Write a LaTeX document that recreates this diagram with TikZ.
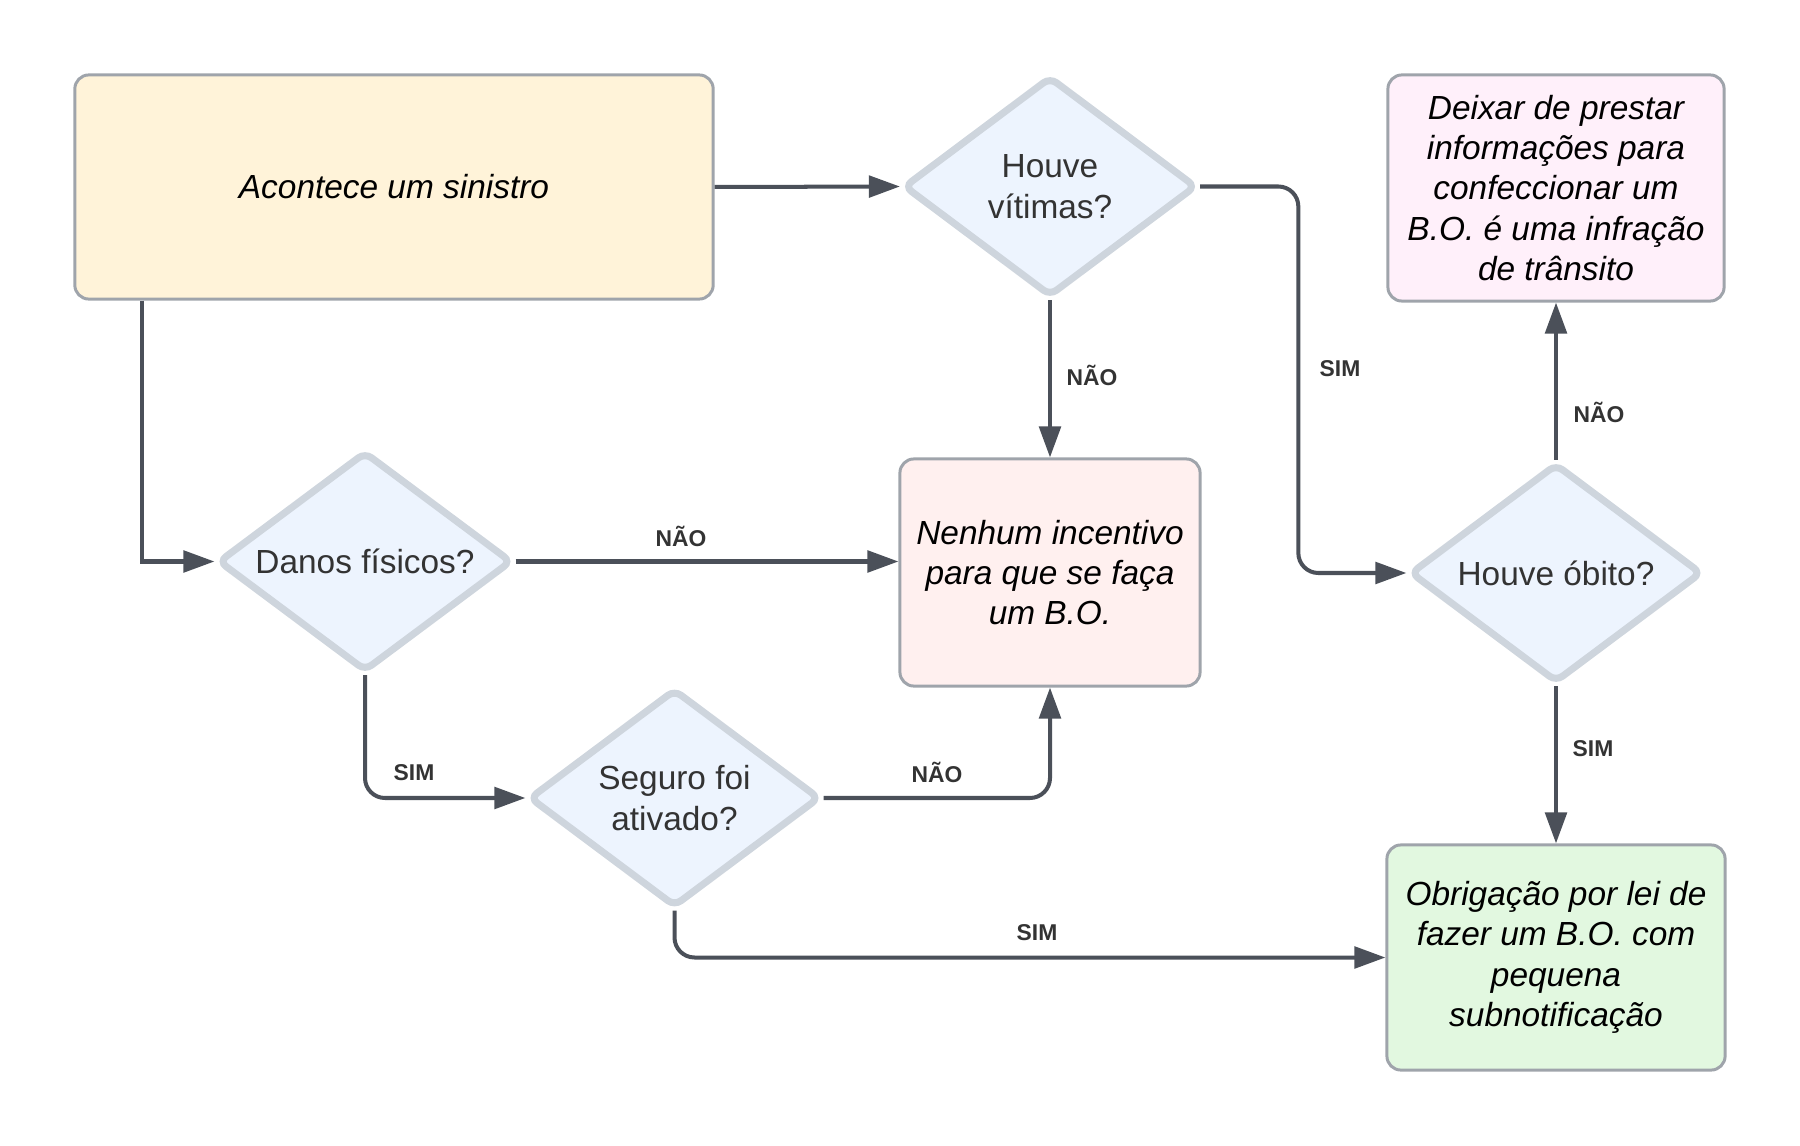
\documentclass[tikz,border=0pt]{standalone}
\usepackage{fontspec}
\setmainfont{Liberation Sans}
\usetikzlibrary{shapes.geometric,arrows.meta,calc}
\definecolor{boxborder}{HTML}{9FA4AB}
\definecolor{diaborder}{HTML}{CED5DD}
\definecolor{diafill}{HTML}{EDF4FE}
\definecolor{conncol}{HTML}{4B5059}
\definecolor{txtgray}{HTML}{333333}
\definecolor{fillA}{HTML}{FFF3D9}
\definecolor{fillB}{HTML}{FFF0EF}
\definecolor{fillC}{HTML}{FFF0FA}
\definecolor{fillD}{HTML}{E2F8E0}
\tikzset{
  boxnode/.style={rectangle, rounded corners=0.14cm, draw=boxborder, line width=0.85pt,
    align=center, inner sep=0pt, text=black,
    font=\fontsize{9.5}{11.5}\selectfont\itshape},
  dianode/.style={diamond, aspect=1.33, draw=diaborder, fill=diafill, line width=2pt,
    rounded corners=0.08cm, inner sep=0pt, align=center, text=txtgray,
    font=\fontsize{9.5}{11.8}\selectfont},
  conn/.style={draw=conncol, line width=1.14pt, rounded corners=0.2cm,
    -{Triangle[length=0.31cm,width=0.215cm]}},
  sharpconn/.style={draw=conncol, line width=1.14pt,
    -{Triangle[length=0.31cm,width=0.215cm]}},
  lab/.style={inner sep=0pt, text=txtgray, font=\fontsize{6.5}{7}\selectfont\bfseries}
}
\begin{document}
\begin{tikzpicture}[x=0.01cm,y=-0.01cm]
\useasboundingbox (0,0) rectangle (1800,1146);
% nodes
\node[boxnode, fill=fillA, minimum width=6.38cm, minimum height=2.24cm] (a1) at (394,187) {Acontece um sinistro};
\node[dianode, minimum width=2.93cm, minimum height=2.2cm] (d1) at (1050,186.5) {Houve\\vítimas?};
\node[boxnode, fill=fillB, minimum width=3.0cm, minimum height=2.27cm] (b2) at (1050,572.5) {Nenhum incentivo\\para que se faça\\um B.O.};
\node[boxnode, fill=fillC, minimum width=3.36cm, minimum height=2.26cm] (b3) at (1556,188) {Deixar de prestar\\informações para\\confeccionar um\\B.O. é uma infração\\de trânsito};
\node[dianode, minimum width=2.92cm, minimum height=2.19cm] (d3) at (1556,573) {Houve óbito?};
\node[boxnode, fill=fillD, minimum width=3.38cm, minimum height=2.25cm] (b4) at (1556,957.5) {Obrigação por lei de\\fazer um B.O. com\\pequena\\subnotificação};
\node[dianode, minimum width=2.94cm, minimum height=2.2cm] (d2) at (365,561.5) {Danos físicos?};
\node[dianode, minimum width=2.91cm, minimum height=2.18cm] (d4) at (674.5,798) {Seguro foi\\ativado?};
% connectors
\draw[sharpconn] (a1.east) -- (d1.west);
\draw[sharpconn] ([xshift=0.685cm]a1.south west) |- (d2.west);
\draw[conn] (d1.south) -- (b2.north);
\draw[conn] (d1.east) -| ([xshift=-1.08cm]d3.west) -- (d3.west);
\draw[conn] (d3.north) -- (b3.south);
\draw[conn] (d3.south) -- (b4.north);
\draw[conn] (d2.east) -- (d2.east -| b2.west);
\draw[conn] (d2.south) |- (d4.west);
\draw[conn] (d4.east) -| (b2.south);
\draw[conn] (d4.south) |- (b4.west);
% labels
\node[lab] (l1) at (1092,375) {NÃO};
\node[lab] (l2) at (1340,369) {SIM};
\node[lab] (l3) at (1599,412) {NÃO};
\node[lab] (l4) at (1593,749) {SIM};
\node[lab] (l5) at (681,536) {NÃO};
\node[lab] (l6) at (414,773) {SIM};
\node[lab] (l7) at (937,772) {NÃO};
\node[lab] (l8) at (1037,933) {SIM};
\end{tikzpicture}
\end{document}
